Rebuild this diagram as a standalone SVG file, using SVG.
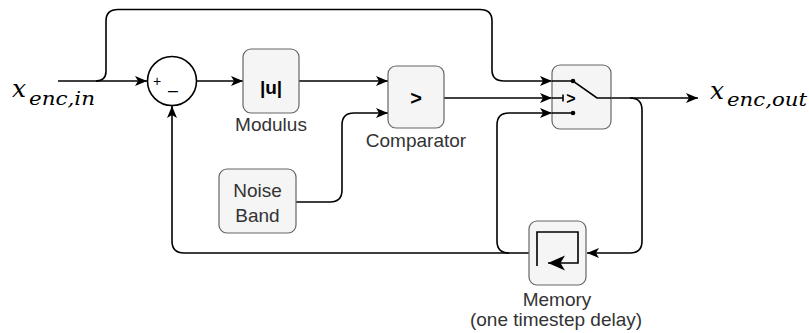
<svg xmlns="http://www.w3.org/2000/svg" width="809" height="333" viewBox="0 0 809 333">
<style>
.box{fill:#f5f5f5;stroke:#666;stroke-width:1.2}
.wire{fill:none;stroke:#000;stroke-width:1.6}
.lbl{font-family:"Liberation Sans",Arial,sans-serif;font-size:19px;fill:#333;text-anchor:middle}
.sym{font-family:"Liberation Sans",Arial,sans-serif;font-weight:bold;fill:#000;text-anchor:middle}
.math{font-family:"DejaVu Serif",serif;font-style:italic;fill:#000}
.icon{fill:none;stroke:#000;stroke-width:1.6}
</style>
<defs>
<marker id="arr" markerUnits="userSpaceOnUse" markerWidth="13" markerHeight="11" refX="12" refY="5" orient="auto">
<path d="M0,0 L12,5 L0,10 L3,5 Z" fill="#000"/>
</marker>
<marker id="arr2" markerUnits="userSpaceOnUse" markerWidth="18" markerHeight="16" refX="17" refY="7.5" orient="auto">
<path d="M0,0 L17,7.5 L0,15 L4.5,7.5 Z" fill="#000"/>
</marker>
</defs>
<rect width="809" height="333" fill="#fff"/>
<g id="connectors">
<path class="wire" d="M58 81 L147 81" marker-end="url(#arr)"/>
<path class="wire" d="M96 81 Q106 81 106 71 L106 21 Q106 9.5 118 9.5 L480 9.5 Q492 9.5 492 21 L492 70 Q492 81 504 81 L552 81" marker-end="url(#arr)"/>
<path class="wire" d="M197 81 L243 81" marker-end="url(#arr)"/>
<path class="wire" d="M299 81 L388 81" marker-end="url(#arr)"/>
<path class="wire" d="M296 202 L330 202 Q342 202 342 190 L342 125 Q342 113 354 113 L388 113" marker-end="url(#arr)"/>
<path class="wire" d="M444 98 L552 98" marker-end="url(#arr)"/>
<path class="wire" d="M611 98 L698 98" marker-end="url(#arr)"/>
<path class="wire" d="M630 98 Q642 98 642 110 L642 241 Q642 253 630 253 L587 253" marker-end="url(#arr)"/>
<path class="wire" d="M529 253 L184 253 Q172 253 172 241 L172 106" marker-end="url(#arr)"/>
<path class="wire" d="M509 253 Q497 253 497 241 L497 125 Q497 113 509 113 L552 113" marker-end="url(#arr)"/>
</g>
<g id="input">
<text class="math" x="12" y="97" font-size="25">x</text>
<text class="math" x="29" y="105" font-size="18" textLength="66" lengthAdjust="spacingAndGlyphs">enc,in</text>
</g>
<g id="sum">
<circle cx="172" cy="81" r="24.5" fill="#fff" stroke="#000" stroke-width="1.6"/>
<text x="157" y="86" font-family="Liberation Sans,Arial,sans-serif" font-size="14" text-anchor="middle">+</text>
<text x="173" y="89" font-family="Liberation Sans,Arial,sans-serif" font-size="17" text-anchor="middle">_</text>
</g>
<g id="modulus">
<rect class="box" x="243" y="49" width="56" height="64" rx="8"/>
<text class="sym" x="271" y="94" font-size="19">|u|</text>
<text class="lbl" x="271" y="131">Modulus</text>
</g>
<g id="comparator">
<rect class="box" x="388" y="66" width="56" height="62" rx="8"/>
<text class="sym" x="416" y="105" font-size="20">&gt;</text>
<text class="lbl" x="416" y="147">Comparator</text>
</g>
<g id="noise-band">
<rect class="box" x="219" y="169" width="77" height="64" rx="8"/>
<text class="lbl" x="257.5" y="197">Noise</text>
<text class="lbl" x="257.5" y="222">Band</text>
</g>
<g id="switch">
<rect class="box" x="552" y="65" width="59" height="64" rx="8"/>
<path class="icon" d="M552 81 L573 81 L597 98 L611 98 M552 98 L563 98 M563 94.5 L563 101.5 M552 113 L573 113"/>
<circle cx="573" cy="81" r="2.3" fill="#000"/>
<circle cx="573" cy="113" r="2.3" fill="#000"/>
<text class="sym" x="571" y="104" font-size="16">&gt;</text>
</g>
<g id="memory">
<rect class="box" x="529" y="221" width="57" height="64" rx="8"/>
<path class="icon" d="M537 266 L537 232 L578 232 L578 263 L548 263" stroke-width="2" marker-end="url(#arr2)"/>
<text class="lbl" x="557" y="306">Memory</text>
<text class="lbl" x="556" y="326">(one timestep delay)</text>
</g>
<g id="output">
<text class="math" x="710" y="99" font-size="25">x</text>
<text class="math" x="727" y="106" font-size="18" textLength="80" lengthAdjust="spacingAndGlyphs">enc,out</text>
</g>
</svg>
